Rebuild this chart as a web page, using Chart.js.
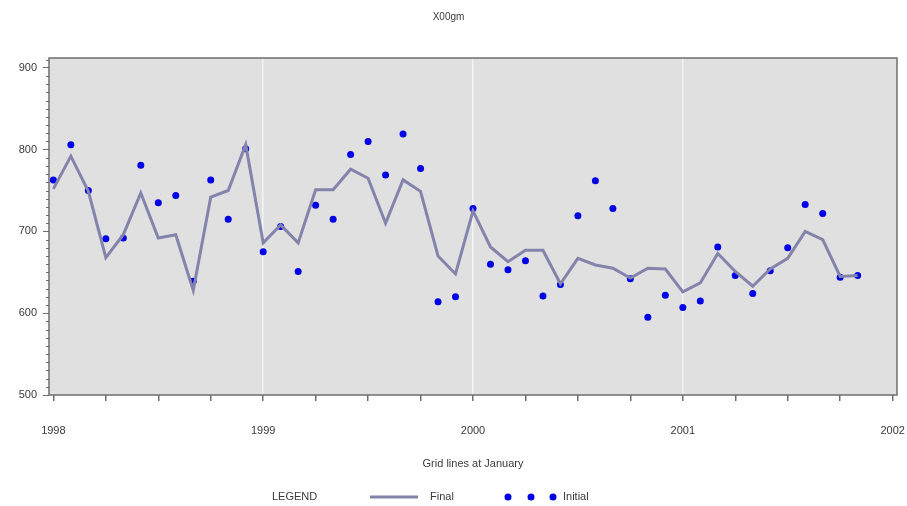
<!DOCTYPE html>
<html>
<head>
<meta charset="utf-8">
<title>Final vs initial estimates</title>
<script src="https://cdn.jsdelivr.net/npm/chart.js@4.4.1/dist/chart.umd.min.js"></script>
<style>
  html, body { margin: 0; padding: 0; background: #fff; }
  #wrap { width: 907px; height: 506px; }
</style>
</head>
<body>
<div id="wrap"><canvas id="chart" width="907" height="506"></canvas></div>
<script>
// monthly series, first value is January 1998
var yearLabels = ['1998', '1999', '2000', '2001', '2002'];
var yTickValues = [500, 600, 700, 800, 900];

var finalVals = [752, 792, 749, 668, 696, 747, 692, 696, 628, 742, 750, 806,
                 686, 708, 686, 751, 751, 776, 765, 710, 763, 749, 670, 648,
                 725, 681, 663, 677, 677, 636, 667, 659, 655, 643, 655, 654,
                 626, 637, 673, 651, 633, 654, 667, 700, 690, 645, 646];

var initialVals = [763, 806, 750, 691, 692, 781, 735, 744, 639, 763, 715, 801,
                   675, 706, 651, 732, 715, 794, 810, 769, 819, 777, 614, 620,
                   728, 660, 653, 664, 621, 635, 719, 762, 728, 642, 595, 622,
                   607, 615, 681, 646, 624, 652, 680, 733, 722, 644, 646];

var lineColor = '#8383ab';
var dotColor = '#0000e6';
var textColor = '#3a3a3a';
var fontFamily = '"Liberation Sans", Arial, sans-serif';

// x is months since Jan 1998
function toPoints(vals) {
    return vals.map(function(v, i) { return { x: i, y: v }; });
}

var framePlugin = {
    id: 'frame',
    beforeDraw: function(chart) {
        var a = chart.chartArea;
        var ctx = chart.ctx;
        ctx.save();
        ctx.fillStyle = '#e0e0e0';
        ctx.fillRect(a.left, a.top, a.right - a.left, a.bottom - a.top);
        ctx.restore();
    },
    afterDraw: function(chart) {
        var a = chart.chartArea;
        var ctx = chart.ctx;
        var y = chart.scales.y;
        ctx.save();

        // plot border
        ctx.strokeStyle = '#6e6e6e';
        ctx.lineWidth = 1.5;
        ctx.strokeRect(a.left, a.top, a.right - a.left, a.bottom - a.top);

        // minor ticks on the value axis
        ctx.lineWidth = 1;
        ctx.strokeStyle = '#6e6e6e';
        ctx.beginPath();
        for (var v = 510; v <= 910; v += 10) {
            if (v % 100 === 0) continue;
            var py = Math.round(y.getPixelForValue(v)) + 0.5;
            ctx.moveTo(a.left - 3, py);
            ctx.lineTo(a.left, py);
        }
        ctx.stroke();

        // legend row
        var ly = 497;
        ctx.font = '11px ' + fontFamily;
        ctx.fillStyle = textColor;
        ctx.textBaseline = 'middle';
        ctx.textAlign = 'left';
        ctx.fillText('LEGEND', 272, ly);

        ctx.strokeStyle = lineColor;
        ctx.lineWidth = 3;
        ctx.beginPath();
        ctx.moveTo(370, ly);
        ctx.lineTo(418, ly);
        ctx.stroke();
        ctx.fillText('Final', 430, ly);

        ctx.fillStyle = dotColor;
        [508, 531, 553].forEach(function(px) {
            ctx.beginPath();
            ctx.arc(px, ly, 3.5, 0, Math.PI * 2);
            ctx.fill();
        });
        ctx.fillStyle = textColor;
        ctx.fillText('Initial', 563, ly);

        ctx.restore();
    }
};

var ctx = document.getElementById('chart');

var myChart = new Chart(ctx, {
    type: 'line',
    data: {
        datasets: [{
            label: 'Final',
            data: toPoints(finalVals),
            borderColor: lineColor,
            borderWidth: 3,
            pointRadius: 0,
            tension: 0,
            fill: false
        }, {
            label: 'Initial',
            data: toPoints(initialVals),
            showLine: false,
            pointRadius: 3.5,
            pointBackgroundColor: dotColor,
            pointBorderColor: dotColor,
            pointBorderWidth: 0
        }]
    },
    options: {
        responsive: false,
        animation: false,
        devicePixelRatio: 1,
        layout: { padding: { left: 0, right: 10, top: 0, bottom: 0 } },
        plugins: {
            legend: { display: false },
            tooltip: { enabled: false },
            title: {
                display: true,
                text: 'X00gm',
                color: textColor,
                font: { family: fontFamily, size: 10, weight: 'normal' },
                padding: { top: 11, bottom: 35 }
            }
        },
        scales: {
            x: {
                type: 'linear',
                min: -0.25,
                max: 48.25,
                afterBuildTicks: function(scale) {
                    var t = [];
                    for (var m = 0; m <= 48; m += 3) t.push({ value: m });
                    scale.ticks = t;
                },
                afterFit: function(scale) {
                    scale.height = 111;
                    // the end labels may hang over the frame
                    scale.paddingLeft = 0;
                    scale.paddingRight = 0;
                },
                border: { display: false },
                grid: {
                    color: function(c) {
                        if (!c.tick) return 'rgba(0,0,0,0)';
                        var v = c.tick.value;
                        return (v % 12 === 0 && v > 0 && v < 48) ? '#f3f3f3' : 'rgba(0,0,0,0)';
                    },
                    lineWidth: 1.5,
                    tickColor: '#6e6e6e',
                    tickLength: 6
                },
                ticks: {
                    autoSkip: false,
                    maxRotation: 0,
                    padding: 23,
                    color: textColor,
                    font: { family: fontFamily, size: 11 },
                    callback: function(v) {
                        return v % 12 === 0 ? yearLabels[v / 12] : '';
                    }
                },
                title: {
                    display: true,
                    text: 'Grid lines at January',
                    color: textColor,
                    font: { family: fontFamily, size: 11 },
                    padding: { top: 0, bottom: 35 }
                }
            },
            y: {
                min: 500,
                max: 912,
                afterBuildTicks: function(scale) {
                    scale.ticks = yTickValues.map(function(v) { return { value: v }; });
                },
                afterFit: function(scale) { scale.width = 49; },
                border: { display: false },
                grid: {
                    drawOnChartArea: false,
                    tickColor: '#6e6e6e',
                    tickLength: 6
                },
                ticks: {
                    padding: 6,
                    color: textColor,
                    font: { family: fontFamily, size: 11 }
                }
            }
        }
    },
    plugins: [framePlugin]
});
</script>
</body>
</html>
